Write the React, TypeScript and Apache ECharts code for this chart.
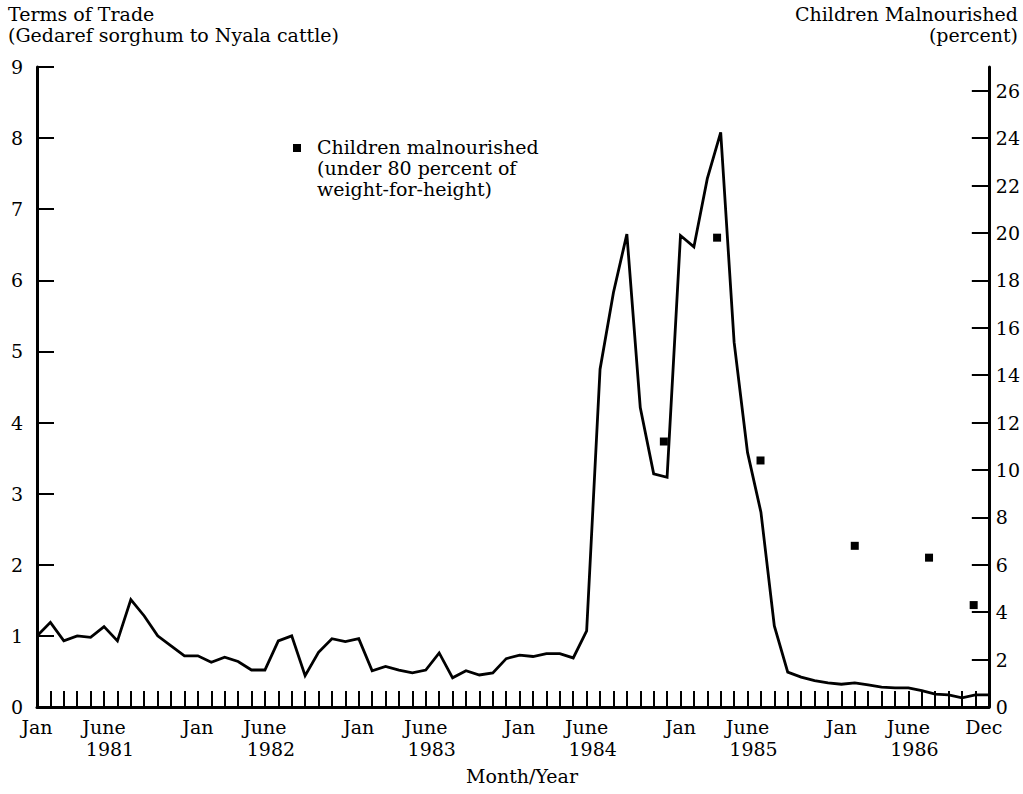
import React, { useEffect, useRef } from 'react';
import * as echarts from 'echarts';

const years = ['1981', '1982', '1983', '1984', '1985', '1986'];
const monthNames = ['Jan', 'Feb', 'Mar', 'Apr', 'May', 'June', 'July', 'Aug', 'Sep', 'Oct', 'Nov', 'Dec'];

// Terms of trade (Gedaref sorghum to Nyala cattle), monthly
const tot1981 = [1.0, 1.19, 0.93, 1.0, 0.98, 1.13, 0.93, 1.51, 1.28, 1.0, 0.86, 0.72];
const tot1982 = [0.72, 0.63, 0.7, 0.64, 0.52, 0.52, 0.93, 1.0, 0.44, 0.77, 0.96, 0.92];
const tot1983 = [0.96, 0.51, 0.57, 0.52, 0.48, 0.52, 0.76, 0.41, 0.51, 0.45, 0.48, 0.68];
const tot1984 = [0.73, 0.71, 0.75, 0.75, 0.69, 1.07, 4.75, 5.83, 6.65, 4.21, 3.28, 3.23];
const tot1985 = [6.63, 6.47, 7.43, 8.08, 5.13, 3.58, 2.74, 1.14, 0.49, 0.42, 0.37, 0.34];
const tot1986 = [0.32, 0.34, 0.31, 0.28, 0.27, 0.27, 0.23, 0.18, 0.17, 0.13, 0.17, 0.17];

// Children malnourished (percent), survey positions in months since Jan 1981
const malMonth = [46.76, 50.73, 53.97, 61.0, 66.54, 69.87];
const malPct = [11.2, 19.8, 10.4, 6.8, 6.3, 4.3];

const leftTicks = [0, 1, 2, 3, 4, 5, 6, 7, 8, 9];
const rightLabels = [0, 2, 4, 6, 8, 10, 12, 14, 16, 18, 20, 22, 24, 26];
const rightTicks = [2, 4, 6, 8, 10, 12, 14, 16, 18, 20, 22, 24, 26];

const FONT = '"DejaVu Serif", "Liberation Serif", serif';
const FS = 19;

export default function App() {
  const ref = useRef<HTMLDivElement>(null);
  useEffect(() => {
    if (!ref.current) return;
    const chart = echarts.init(ref.current, undefined, { renderer: 'svg' });
    const tot = [...tot1981, ...tot1982, ...tot1983, ...tot1984, ...tot1985, ...tot1986];
    const lineData = tot.map((v, i) => [i, v]);
    const scatterData = malMonth.map((m, i) => [m, malPct[i]]);
    const last = tot.length - 1;
    const textStyle = { fontFamily: FONT, fontSize: FS, color: '#000' };

    chart.setOption({
      animation: false,
      backgroundColor: '#fff',
      grid: { left: 37, right: 34, top: 67, bottom: 87, containLabel: false },
      xAxis: {
        type: 'value',
        min: 0,
        max: last,
        interval: 1,
        axisLine: { show: true, lineStyle: { color: '#000', width: 3 } },
        axisTick: { show: true, inside: true, length: 16, lineStyle: { color: '#000', width: 2 } },
        splitLine: { show: false },
        axisLabel: {
          show: true,
          margin: 9,
          showMinLabel: true,
          showMaxLabel: true,
          formatter: (v: number) => {
            const i = Math.round(v);
            if (i === last) return '{d|' + monthNames[11] + '}';
            const m = i % 12;
            const y = Math.floor(i / 12);
            if (m === 0) return '{m|' + monthNames[0] + '}';
            if (m === 5) return '{m|' + monthNames[5] + '}\n{y|' + years[y] + '}';
            return '';
          },
          rich: {
            m: { ...textStyle, lineHeight: 21 },
            d: { ...textStyle, lineHeight: 21, padding: [0, 10, 0, 0] },
            y: { ...textStyle, lineHeight: 23, padding: [0, 0, 0, 12] },
          },
        },
      },
      yAxis: [
        {
          type: 'value',
          position: 'left',
          min: 0,
          max: 9,
          interval: 1,
          axisLine: { show: true, lineStyle: { color: '#000', width: 3 } },
          axisTick: { show: true, inside: true, length: 17, lineStyle: { color: '#000', width: 2 }, customValues: leftTicks.slice(1) },
          axisLabel: { ...textStyle, margin: 14, lineHeight: 16, customValues: leftTicks },
          splitLine: { show: false },
        },
        {
          type: 'value',
          position: 'right',
          min: 0,
          max: 27,
          interval: 2,
          axisLine: { show: true, lineStyle: { color: '#000', width: 3 } },
          axisTick: { show: true, inside: true, length: 17, lineStyle: { color: '#000', width: 2 }, customValues: rightTicks },
          axisLabel: { ...textStyle, margin: 7, lineHeight: 16, customValues: rightLabels },
          splitLine: { show: false },
        },
      ],
      series: [
        {
          name: 'Terms of trade',
          type: 'line',
          yAxisIndex: 0,
          data: lineData,
          showSymbol: false,
          symbol: 'none',
          lineStyle: { color: '#000', width: 2.8, join: 'miter' },
          z: 3,
        },
        {
          name: 'Children malnourished',
          type: 'scatter',
          yAxisIndex: 1,
          data: scatterData,
          symbol: 'rect',
          symbolSize: 8,
          itemStyle: { color: '#000', opacity: 1 },
          z: 4,
        },
      ],
      graphic: [
        {
          type: 'text',
          x: 8,
          y: 3,
          style: { text: 'Terms of Trade\n(Gedaref sorghum to Nyala cattle)', font: FS + 'px ' + FONT, fill: '#000', lineHeight: 21 },
        },
        {
          type: 'text',
          x: 1018,
          y: 3,
          style: { text: 'Children Malnourished\n(percent)', font: FS + 'px ' + FONT, fill: '#000', lineHeight: 21, align: 'right' },
        },
        {
          type: 'text',
          x: 522,
          y: 766,
          style: { text: 'Month/Year', font: FS + 'px ' + FONT, fill: '#000', align: 'center' },
        },
        {
          type: 'rect',
          shape: { x: 293, y: 144, width: 8, height: 8 },
          style: { fill: '#000' },
        },
        {
          type: 'text',
          x: 317,
          y: 136,
          style: { text: 'Children malnourished\n(under 80 percent of\nweight-for-height)', font: FS + 'px ' + FONT, fill: '#000', lineHeight: 21 },
        },
      ],
    });
    return () => chart.dispose();
  }, []);
  return <div ref={ref} style={{ position: 'absolute', left: 0, top: 0, width: 1023, height: 794 }} />;
}
